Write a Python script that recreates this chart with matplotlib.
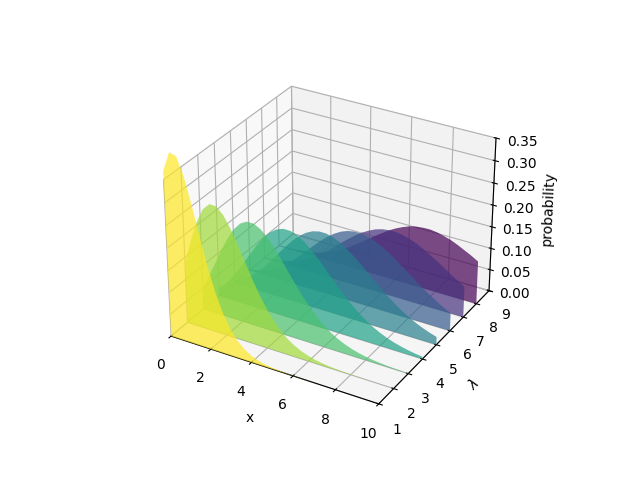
import matplotlib
matplotlib.use("Agg")
import matplotlib.pyplot as plt
import numpy as np
from matplotlib.collections import PolyCollection

x_values = [0, 0.333, 0.667, 1, 1.333, 1.667, 2, 2.333, 2.667, 3, 3.333, 3.667, 4, 4.333, 4.667, 5,
            5.333, 5.667, 6, 6.333, 6.667, 7, 7.333, 7.667, 8, 8.333, 8.667, 9, 9.333, 9.667, 10]
lambdas = [1, 2, 3, 4, 5, 6, 7, 8]

series_1 = [.3679, .4120, .4075, .3679, .3090, .2445, .1839, .1324, .0917, .0613, .0397, .0250, .0153, .00917, .00536, .00307,
            .00172, .00095, .00051, .00027, .00014, .00007, .00004, .00002, .00001, 0, 0, 0, 0, 0, 0]
series_2 = [.13534, .19095, .23798, .27067, .28643, .28558, .27067, .24551, .21419, .18045, .14731, .11683, .09022, .06799, .05007, .03609,
            .02550, .01767, .01203, .00805, .00530, .00344, .00220, .00138, .00086, .00053, .00032, .00019, .00011, .00007, .00004]
series_3 = [.04979, .08041, .11472, .14936, .18092, .20650, .22404, .23261, .23231, .22404, .20935, .19007, .16803, .14493, .12219, .10082,
            .08152, .06469, .05041, .03861, .02911, .02160, .01580, .01139, .00810, .00569, .00394, .00270, .00183, .00122, .00081]
series_4 = [.01832, .03256, .05112, .07326, .09768, .12269, .14653, .16745, .18404, .19537, .20094, .20077, .19537, .18548, .17209, .15629,
            .13911, .12148, .10420, .08786, .07289, .05954, .04792, .03803, .02977, .02300, .01755, .01323, .00986, .00726, .00529]
series_5 = [.00674, .01290, .02182, .03369, .04838, .06546, .08422, .10367, .12274, .14037, .15551, .16737, .17547, .17944, .17933, .17547,
            .16823, .15823, .14622, .13281, .11867, .10444, .09055, .07739, .06528, .05433, .04465, .03627, .02911, .02309, .01813]
series_6 = [.00248, .00504, .00907, .01487, .02268, .03265, .04462, .05832, .07346, .08924, .10498, .12021, .13385, .14536, .15456, .16062,
            .16353, .16365, .16062, .15492, .14729, .13768, .12675, .11527, .10326, .09126, .07980, .06884, .05867, .04953, .04130]
series_7 = [.00091, .00195, .00370, .00638, .01024, .01554, .02234, .03072, .04079, .05213, .06451, .07787, .09123, .10421, .11681, .12772,
            .13678, .14430, .14900, .15118, .15152, .14900, .14431, .13834, .13038, .12122, .11174, .10140, .09092, .08092, .07098]
series_8 = [.00034, .00075, .00149, .00268, .00450, .00715, .01073, .01543, .02145, .02863, .03703, .04680, .05725, .06836, .08023, .09160,
            .10254, .11327, .12214, .12952, .13592, .13959, .14130, .14183, .13959, .13565, .13092, .12408, .11627, .10835, .09926]

all_series = [series_1, series_2, series_3, series_4, series_5, series_6, series_7, series_8]

fig = plt.figure(figsize=(6.4, 4.8), dpi=100)
ax = fig.add_subplot(projection='3d')

verts = [[(x_values[0], 0.0), *zip(x_values, s), (x_values[-1], 0.0)] for s in all_series]
facecolors = plt.colormaps['viridis_r'](np.linspace(0, 1, len(verts)))
poly = PolyCollection(verts, facecolors=facecolors, alpha=.7)
ax.add_collection3d(poly, zs=lambdas, zdir='y')

ax.set(xlim=(0, 10), ylim=(1, 9), zlim=(0, 0.35),
       xlabel='x', ylabel=r'$\lambda$', zlabel='probability')

fig.savefig('out.png', dpi=100)
